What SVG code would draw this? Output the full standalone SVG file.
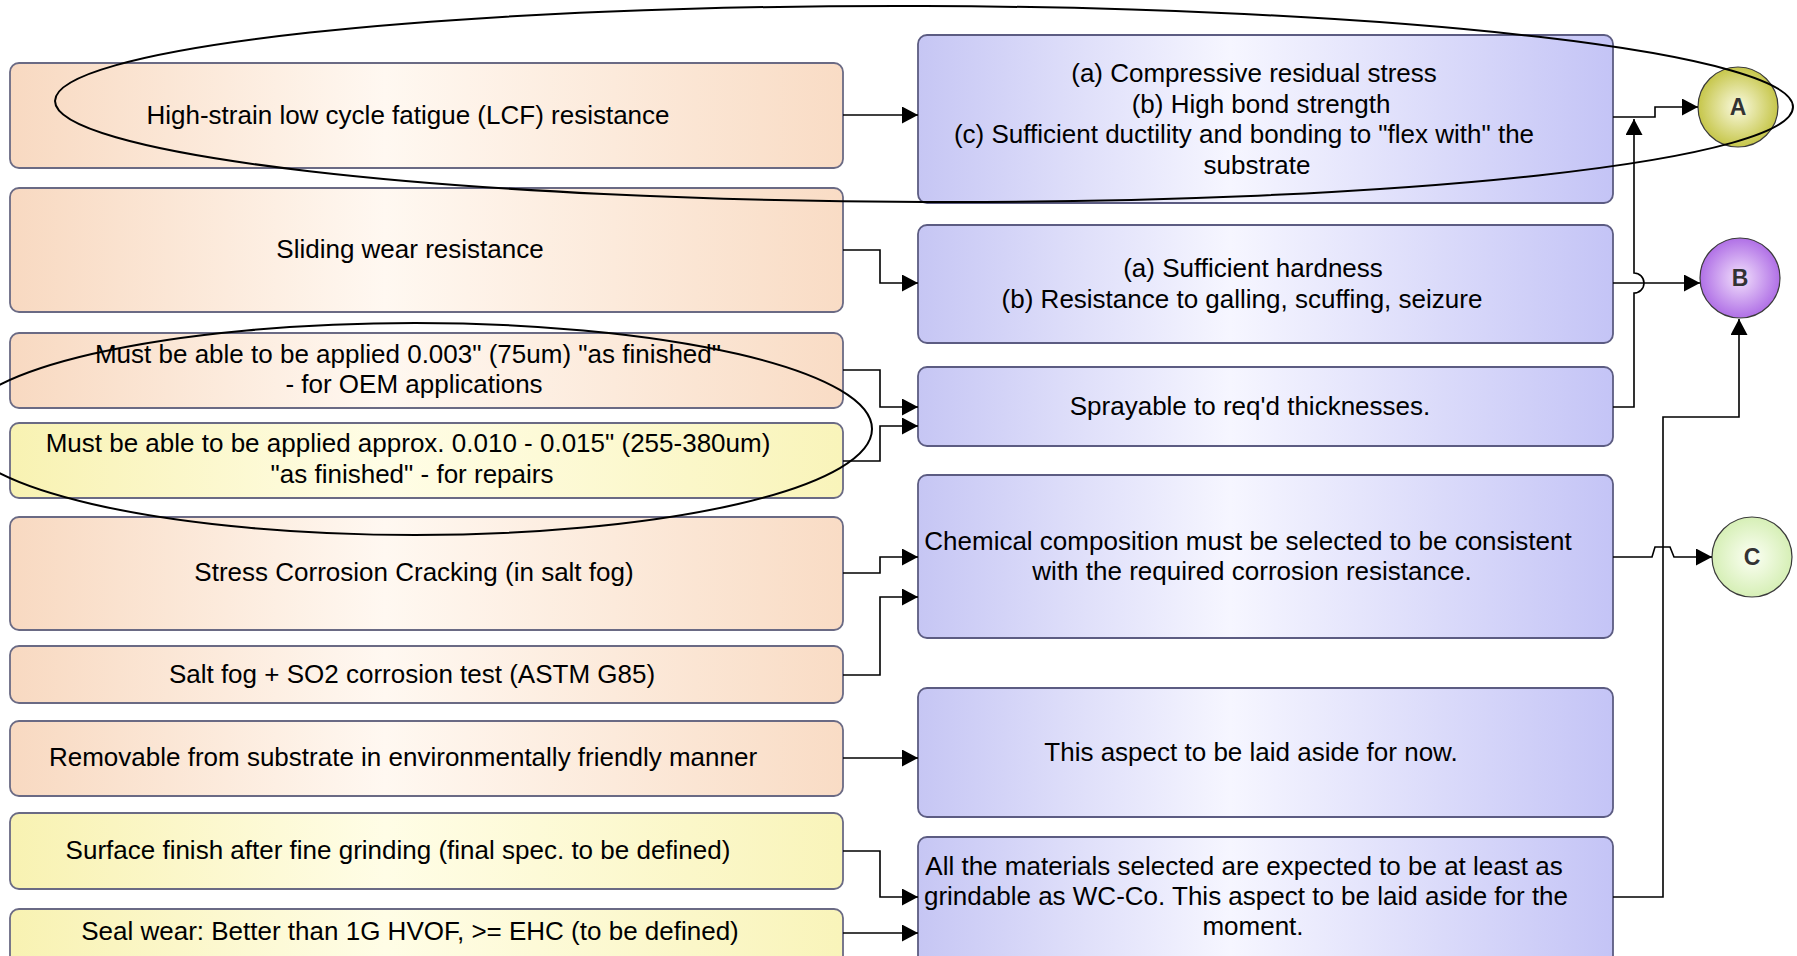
<svg xmlns="http://www.w3.org/2000/svg" width="1797" height="956" viewBox="0 0 1797 956">
<defs>
<linearGradient id="gPeach" x1="0" y1="0" x2="1" y2="0">
<stop offset="0" stop-color="#f8d9c1"/><stop offset="0.45" stop-color="#fff8f1"/><stop offset="1" stop-color="#f9dcc5"/>
</linearGradient>
<linearGradient id="gYellow" x1="0" y1="0" x2="1" y2="0">
<stop offset="0" stop-color="#f8f2b2"/><stop offset="0.45" stop-color="#fffde6"/><stop offset="1" stop-color="#f9f4ba"/>
</linearGradient>
<linearGradient id="gLav" x1="0" y1="0" x2="1" y2="0">
<stop offset="0" stop-color="#c6c6f4"/><stop offset="0.45" stop-color="#f6f6ff"/><stop offset="1" stop-color="#c4c4f6"/>
</linearGradient>
<radialGradient id="gA" cx="0.5" cy="0.5" r="0.5"><stop offset="0" stop-color="#fafae0"/><stop offset="1" stop-color="#c6c64a"/></radialGradient>
<radialGradient id="gB" cx="0.5" cy="0.5" r="0.5"><stop offset="0" stop-color="#f2e0fc"/><stop offset="1" stop-color="#b070e6"/></radialGradient>
<radialGradient id="gC" cx="0.5" cy="0.5" r="0.5"><stop offset="0" stop-color="#fcfff4"/><stop offset="1" stop-color="#d6efb6"/></radialGradient>
<marker id="arr" markerWidth="17" markerHeight="17" refX="16" refY="8.5" orient="auto" markerUnits="userSpaceOnUse">
<path d="M0,0 L16,8.5 L0,17 z" fill="#000"/>
</marker>
<style>
.box{stroke:#6a6a84;stroke-width:1.8}
.peach{fill:url(#gPeach)}
.yellow{fill:url(#gYellow)}
.lav{fill:url(#gLav);stroke:#5c5c82}
text{font-family:"Liberation Sans",Arial,sans-serif;font-size:26px;fill:#000;text-anchor:middle}
.circ{stroke:#3a3a3a;stroke-width:1.2}
.lbl{font-size:23px;font-weight:bold;fill:#333}
.con{fill:none;stroke:#000;stroke-width:1.6}
.arrow{marker-end:url(#arr)}
.ann{fill:none;stroke:#000;stroke-width:2}
</style>
</defs>
<rect width="1797" height="956" fill="#fff"/>

<!-- left nodes -->
<g id="n-lcf"><rect class="box peach" x="10" y="63" width="833" height="105" rx="9"/><text x="408" y="124">High-strain low cycle fatigue (LCF) resistance</text></g>
<g id="n-sliding"><rect class="box peach" x="10" y="188" width="833" height="124" rx="9"/><text x="410" y="258">Sliding wear resistance</text></g>
<g id="n-oem"><rect class="box peach" x="10" y="333" width="833" height="75" rx="9"/><text x="408" y="363">Must be able to be applied 0.003" (75um) "as finished"</text><text x="414" y="393">- for OEM applications</text></g>
<g id="n-repair"><rect class="box yellow" x="10" y="423" width="833" height="75" rx="9"/><text x="408" y="452">Must be able to be applied approx. 0.010 - 0.015" (255-380um)</text><text x="412" y="483">"as finished" - for repairs</text></g>
<g id="n-scc"><rect class="box peach" x="10" y="517" width="833" height="113" rx="9"/><text x="414" y="581">Stress Corrosion Cracking (in salt fog)</text></g>
<g id="n-saltfog"><rect class="box peach" x="10" y="646" width="833" height="57" rx="9"/><text x="412" y="683">Salt fog + SO2 corrosion test (ASTM G85)</text></g>
<g id="n-removable"><rect class="box peach" x="10" y="721" width="833" height="75" rx="9"/><text x="403" y="766">Removable from substrate in environmentally friendly manner</text></g>
<g id="n-surface"><rect class="box yellow" x="10" y="813" width="833" height="76" rx="9"/><text x="398" y="859">Surface finish after fine grinding (final spec. to be defined)</text></g>
<g id="n-seal"><rect class="box yellow" x="10" y="909" width="833" height="60" rx="9"/><text x="410" y="940">Seal wear: Better than 1G HVOF, &gt;= EHC (to be defined)</text></g>

<!-- right nodes -->
<g id="r-lcf"><rect class="box lav" x="918" y="35" width="695" height="168" rx="9"/><text x="1254" y="82">(a) Compressive residual stress</text><text x="1261" y="113">(b) High bond strength</text><text x="1244" y="143">(c) Sufficient ductility and bonding to "flex with" the</text><text x="1257" y="174">substrate</text></g>
<g id="r-wear"><rect class="box lav" x="918" y="225" width="695" height="118" rx="9"/><text x="1253" y="277">(a) Sufficient hardness</text><text x="1242" y="308">(b) Resistance to galling, scuffing, seizure</text></g>
<g id="r-spray"><rect class="box lav" x="918" y="367" width="695" height="79" rx="9"/><text x="1250" y="415">Sprayable to req'd thicknesses.</text></g>
<g id="r-chem"><rect class="box lav" x="918" y="475" width="695" height="163" rx="9"/><text x="1248" y="550">Chemical composition must be selected to be consistent</text><text x="1252" y="580">with the required corrosion resistance.</text></g>
<g id="r-aside"><rect class="box lav" x="918" y="688" width="695" height="129" rx="9"/><text x="1251" y="761">This aspect to be laid aside for now.</text></g>
<g id="r-grind"><rect class="box lav" x="918" y="837" width="695" height="132" rx="9"/><text x="1244" y="875">All the materials selected are expected to be at least as</text><text x="1246" y="905">grindable as WC-Co. This aspect to be laid aside for the</text><text x="1253" y="935">moment.</text></g>

<!-- circles -->
<g id="c-A"><circle class="circ" cx="1738" cy="107" r="40" fill="url(#gA)"/><text class="lbl" x="1738" y="115">A</text></g>
<g id="c-B"><circle class="circ" cx="1740" cy="278" r="40" fill="url(#gB)"/><text class="lbl" x="1740" y="286">B</text></g>
<g id="c-C"><circle class="circ" cx="1752" cy="557" r="40" fill="url(#gC)"/><text class="lbl" x="1752" y="565">C</text></g>

<!-- connectors -->
<g id="connectors">
<path class="con arrow" d="M843,115 H918"/>
<path class="con arrow" d="M843,250 H880 V283 H918"/>
<path class="con arrow" d="M843,370 H880 V407 H918"/>
<path class="con arrow" d="M843,461 H880 V426 H918"/>
<path class="con arrow" d="M843,573 H880 V557 H918"/>
<path class="con arrow" d="M843,675 H880 V597 H918"/>
<path class="con arrow" d="M843,758 H918"/>
<path class="con arrow" d="M843,851 H880 V897 H918"/>
<path class="con arrow" d="M843,933 H918"/>
<path class="con arrow" d="M1613,117 H1655 V107 H1698"/>
<path class="con arrow" d="M1613,407 H1634 V293 A10,10 0 0 0 1634,273 V119"/>
<path class="con arrow" d="M1613,283 H1700"/>
<path class="con arrow" d="M1613,897 H1663 V417 H1739 V319"/>
<path class="con arrow" d="M1613,557 H1652 L1655,547 H1670 L1674,557 H1712"/>
</g>

<!-- annotation ellipses -->
<g id="annotations">
<ellipse class="ann" cx="924" cy="104" rx="869" ry="98" transform="rotate(0.2 924 104)"/>
<ellipse class="ann" cx="415" cy="429" rx="457" ry="106"/>
</g>
</svg>
